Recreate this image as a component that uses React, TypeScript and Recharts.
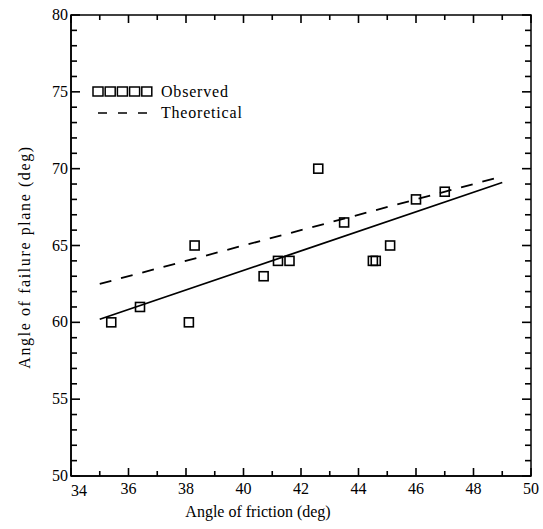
import React from 'react'
import { ComposedChart, Scatter, Line, XAxis, YAxis, ReferenceArea } from 'recharts'

// observed points (angle of friction vs angle of failure plane)
const frictionObs = [35.4, 36.4, 38.1, 38.3, 40.7, 41.2, 41.6, 42.6, 43.5, 44.5, 44.6, 45.1, 46.0, 47.0]
const failureObs = [60, 61, 60, 65, 63, 64, 64, 70, 66.5, 64, 64, 65, 68, 68.5]

// fitted line (solid) and theoretical line (dashed)
const fitX = [35, 49]
const fitY = [60.2, 69.1]
const theoryX = [35, 49]
const theoryY = [62.5, 69.5]

const xTicks = [34, 35, 36, 37, 38, 39, 40, 41, 42, 43, 44, 45, 46, 47, 48, 49, 50]
const xLabels = [34, 36, 38, 40, 42, 44, 46, 48, 50]
const yTicks = [50, 51, 52, 53, 54, 55, 56, 57, 58, 59, 60, 61, 62, 63, 64, 65, 66, 67, 68, 69, 70, 71, 72, 73, 74, 75, 76, 77, 78, 79, 80]
const yLabels = [50, 55, 60, 65, 70, 75, 80]

const observed = frictionObs.map((x, i) => ({ x, y: failureObs[i] }))
const fitted = fitX.map((x, i) => ({ x, y: fitY[i] }))
const theory = theoryX.map((x, i) => ({ x, y: theoryY[i] }))

const FONT = '"Liberation Serif", "DejaVu Serif", serif'
const TICK = '#000'
const W = 543
const H = 529
// plot frame edges (top / right); the ticks on those sides are drawn by the bottom / left ticks
const PLOT_TOP = 15
const PLOT_RIGHT = 531
// recharts hands the tick its label anchor: axis +/- (tickSize + tickMargin)
const OFF = 8

const BottomTick = (props: any) => {
  const x = Number(props.x)
  const y = Number(props.y) - OFF
  const v = props.payload.value
  const major = xLabels.includes(v)
  const len = major ? 8 : 5
  const first = v === 34
  return (
    <g>
      <path d={`M${x},${y}V${y - len}`} stroke={TICK} strokeWidth={1.6} fill="none" />
      <path d={`M${x},${PLOT_TOP}V${PLOT_TOP + len}`} stroke={TICK} strokeWidth={1.6} fill="none" />
      {major && (
        <text x={x + (first ? 8 : 0)} y={y + (first ? 20 : 18)} textAnchor="middle" fontFamily={FONT} fontSize={16} fill="#000">
          {v}
        </text>
      )}
    </g>
  )
}

const LeftTick = (props: any) => {
  const x = Number(props.x) + OFF
  const y = Number(props.y)
  const v = props.payload.value
  const major = yLabels.includes(v)
  const len = major ? 9 : 6
  return (
    <g>
      <path d={`M${x},${y}H${x + len}`} stroke={TICK} strokeWidth={1.6} fill="none" />
      <path d={`M${PLOT_RIGHT},${y}H${PLOT_RIGHT - len}`} stroke={TICK} strokeWidth={1.6} fill="none" />
      {major && (
        <text x={x - 3} y={y + 5} textAnchor="end" fontFamily={FONT} fontSize={16} fill="#000">
          {v}
        </text>
      )}
    </g>
  )
}

const SquareShape = (props: any) => {
  const { cx, cy } = props
  return <rect x={cx - 4.5} y={cy - 4.5} width={9} height={9} fill="none" stroke="#000" strokeWidth={1.6} />
}

const LegendBox = () => (
  <svg width={200} height={44} style={{ position: 'absolute', left: 90, top: 80 }}>
    {[0, 1, 2, 3, 4].map((i) => (
      <rect key={i} x={3 + i * 12.2} y={7} width={10} height={9} fill="none" stroke="#000" strokeWidth={1.5} />
    ))}
    <text x={71} y={17} fontFamily={FONT} fontSize={16} letterSpacing={0.8} fill="#000">Observed</text>
    <path d="M8,33H62" stroke="#000" strokeWidth={1.6} strokeDasharray="9 11" fill="none" />
    <text x={71} y={38} fontFamily={FONT} fontSize={16} letterSpacing={0.8} fill="#000">Theoretical</text>
  </svg>
)

const axisCommon = { tickSize: 6, tickMargin: 2, interval: 0 as const, stroke: '#000', strokeWidth: 1.5 }

export default function App() {
  return (
    <div style={{ position: 'absolute', left: 0, top: 0, width: W, height: H, background: '#fff' }}>
      <ComposedChart width={W} height={H} margin={{ top: PLOT_TOP, right: W - PLOT_RIGHT, bottom: 0, left: 0 }}>
        <XAxis
          xAxisId="bottom"
          type="number"
          dataKey="x"
          domain={[34, 50]}
          ticks={xTicks}
          tick={<BottomTick />}
          tickLine={{ stroke: 'none' }}
          height={53}
          {...axisCommon}
          label={() => (
            <text x={258} y={517} textAnchor="middle" fontFamily={FONT} fontSize={16} fill="#000">
              Angle of friction  (deg)
            </text>
          )}
        />
        <YAxis
          yAxisId="left"
          type="number"
          dataKey="y"
          domain={[50, 80]}
          ticks={yTicks}
          tick={<LeftTick />}
          tickLine={{ stroke: 'none' }}
          width={71}
          {...axisCommon}
          label={() => (
            <text
              x={0}
              y={0}
              transform="translate(30, 257) rotate(-90)"
              textAnchor="middle"
              fontFamily={FONT}
              fontSize={16}
              letterSpacing={1.6}
              fill="#000"
            >
              Angle of failure plane  (deg)
            </text>
          )}
        />
        <ReferenceArea
          xAxisId="bottom"
          yAxisId="left"
          x1={34}
          x2={50}
          y1={50}
          y2={80}
          fill="none"
          fillOpacity={0}
          stroke="#000"
          strokeWidth={1.5}
        />
        <Line
          xAxisId="bottom"
          yAxisId="left"
          data={fitted}
          dataKey="y"
          type="linear"
          stroke="#000"
          strokeWidth={1.8}
          dot={false}
          isAnimationActive={false}
        />
        <Line
          xAxisId="bottom"
          yAxisId="left"
          data={theory}
          dataKey="y"
          type="linear"
          stroke="#000"
          strokeWidth={1.8}
          strokeDasharray="12 10"
          dot={false}
          isAnimationActive={false}
        />
        <Scatter
          xAxisId="bottom"
          yAxisId="left"
          data={observed}
          dataKey="y"
          shape={<SquareShape />}
          isAnimationActive={false}
        />
      </ComposedChart>
      <LegendBox />
    </div>
  )
}
